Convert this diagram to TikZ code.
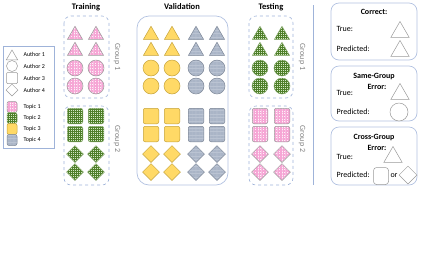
\documentclass[tikz,border=0pt]{standalone}
\usepackage{fontspec}
\setmainfont{Carlito}
\usepackage{xcolor}
\usepackage{tikz}
\usetikzlibrary{shapes.geometric, patterns.meta, positioning}
\definecolor{boxblue}{HTML}{9FB3D9}
\definecolor{shpline}{HTML}{9A9A9A}
\definecolor{pinkln}{HTML}{F6A6D5}
\definecolor{pinkbg}{HTML}{FEF0F8}
\definecolor{greenln}{HTML}{4F7F2A}
\definecolor{greenbg}{HTML}{D3E8C3}
\definecolor{goldfill}{HTML}{FFD966}
\definecolor{goldln}{HTML}{C4A23A}
\definecolor{slatefill}{HTML}{BAC3D2}
\definecolor{slateln}{HTML}{AAB5C7}
\definecolor{slateedge}{HTML}{7E8898}

\begin{document}
\begin{tikzpicture}[x=1pt, y=-1pt,
  every node/.style={font=\fontsize{8}{9}\selectfont},
  shp/.style={inner sep=0pt, draw=shpline, line width=0.5pt},
  tri/.style={shp, regular polygon, regular polygon sides=3,
    minimum size=17.5pt, yshift=-2pt},
  circ/.style={shp, circle, minimum size=16pt},
  sq/.style={shp, rectangle, rounded corners=2pt, minimum size=15.5pt},
  dia/.style={shp, diamond, minimum size=17pt},
  topic1/.style={preaction={fill=pinkbg},
    pattern={Hatch[distance=1.6pt, line width=0.3pt]}, pattern color=pinkln},
  topic2/.style={preaction={fill=greenbg},
    pattern={Hatch[distance=2pt, line width=0.8pt]}, pattern color=greenln,
    draw=greenln!70},
  topic3/.style={fill=goldfill, draw=goldln},
  topic4/.style={preaction={fill=slatefill},
    pattern={Lines[distance=1.4pt, line width=0.3pt]}, pattern color=slateln,
    draw=slateedge},
  blank/.style={fill=white, draw=shpline},
  title/.style={font=\fontsize{8.5}{9}\selectfont\bfseries},
  grplbl/.style={rotate=-90, text=gray, font=\fontsize{8}{9}\selectfont},
  grpbox/.style={draw=boxblue, dashed, line width=0.6pt, rounded corners=7pt},
  panel/.style={draw=boxblue!80, line width=0.7pt, rounded corners=8pt},
  lgd/.style={anchor=west, font=\fontsize{6}{7}\selectfont},
  txt/.style={anchor=west, font=\fontsize{8}{9}\selectfont}]

\useasboundingbox (0,0) rectangle (423,269);

% legend
\draw [draw=boxblue, line width=0.6pt] (3,46) rectangle (54,148);
\node (au1) [tri, blank, minimum size=13pt, yshift=-0.5pt] at (12,54) {};
\node (au2) [circ, blank, minimum size=11pt] at (12,66) {};
\node (au3) [sq, blank, minimum size=11pt, rounded corners=1pt] at (12,78) {};
\node (au4) [dia, blank, minimum size=12pt] at (12,90) {};
\node (au1t) [lgd] at (20,54) {Author 1};
\node (au2t) [lgd] at (20,66) {Author 2};
\node (au3t) [lgd] at (20,78) {Author 3};
\node (au4t) [lgd] at (20,90) {Author 4};
\node (tp1) [sq, topic1, minimum width=10pt, minimum height=11pt] at (12,107) {};
\node (tp2) [sq, topic2, minimum width=10pt, minimum height=11pt] at (12,118) {};
\node (tp3) [sq, topic3, minimum width=10pt, minimum height=11pt] at (12,129) {};
\node (tp4) [sq, topic4, minimum width=10pt, minimum height=11pt] at (12,140) {};
\node (tp1t) [lgd] at (20,107) {Topic 1};
\node (tp2t) [lgd] at (20,118) {Topic 2};
\node (tp3t) [lgd] at (20,129) {Topic 3};
\node (tp4t) [lgd] at (20,140) {Topic 4};

% training
\node (trtitle) [title] at (86,7) {Training};
\draw [grpbox] (64,16) rectangle (109,98);
\draw [grpbox] (64,106) rectangle (109,185);
\node (trg1) [grplbl] at (117,57) {Group 1};
\node (trg2) [grplbl] at (117,139) {Group 2};
\foreach \x in {75,96} {
  \foreach \y in {33,49} \node (tr-\x-\y) [tri, topic1] at (\x,\y) {};
  \foreach \y in {68,86} \node (tr-\x-\y) [circ, topic1] at (\x,\y) {};
  \foreach \y in {116,134} \node (tr-\x-\y) [sq, topic2] at (\x,\y) {};
  \foreach \y in {154,172} \node (tr-\x-\y) [dia, topic2] at (\x,\y) {};
}

% validation
\node (vatitle) [title] at (182,7) {Validation};
\draw [panel, rounded corners=12pt] (137,16) rectangle (228,185);
\foreach \x/\t in {151/topic3,172/topic3,196/topic4,217/topic4} {
  \foreach \y in {33,49} \node (va-\x-\y) [tri, \t] at (\x,\y) {};
  \foreach \y in {68,86} \node (va-\x-\y) [circ, \t] at (\x,\y) {};
  \foreach \y in {116,134} \node (va-\x-\y) [sq, \t] at (\x,\y) {};
  \foreach \y in {154,172} \node (va-\x-\y) [dia, \t] at (\x,\y) {};
}

% testing
\node (tetitle) [title] at (271,7) {Testing};
\draw [grpbox] (249,16) rectangle (293,98);
\draw [grpbox] (249,106) rectangle (293,185);
\node (teg1) [grplbl] at (302,57) {Group 1};
\node (teg2) [grplbl] at (302,139) {Group 2};
\foreach \x in {260,282} {
  \foreach \y in {33,49} \node (te-\x-\y) [tri, topic2] at (\x,\y) {};
  \foreach \y in {68,86} \node (te-\x-\y) [circ, topic2] at (\x,\y) {};
  \foreach \y in {116,134} \node (te-\x-\y) [sq, topic1] at (\x,\y) {};
  \foreach \y in {154,172} \node (te-\x-\y) [dia, topic1] at (\x,\y) {};
}

\draw [draw=boxblue, line width=0.7pt] (313,5) -- (313,185);

% outcome panels
\draw [panel] (331,3) rectangle (417,60);
\node (cortitle) [font=\fontsize{8}{9}\selectfont\bfseries] at (374,12) {Correct:};
\node (cortrue) [txt] at (333,29) {True:};
\node (corpred) [txt] at (333,49) {Predicted:};
\node (cortri) [tri, blank, minimum size=21pt] at (400,30) {};
\node (corptri) [tri, blank, minimum size=21pt] at (400,49) {};

\draw [panel] (331,66) rectangle (417,121);
\node (sgtitle) [font=\fontsize{8}{9}\selectfont\bfseries] at (374,76) {Same-Group};
\node (sgerr) [font=\fontsize{8}{9}\selectfont\bfseries] at (377,87) {Error:};
\node (sgtrue) [txt] at (333,93) {True:};
\node (sgpred) [txt] at (333,112) {Predicted:};
\node (sgtri) [tri, blank, minimum size=21pt] at (400,92) {};
\node (sgcirc) [circ, blank, minimum size=18pt] at (399,112) {};

\draw [panel] (331,127) rectangle (417,185);
\node (cgtitle) [font=\fontsize{8}{9}\selectfont\bfseries] at (374,137) {Cross-Group};
\node (cgerr) [font=\fontsize{8}{9}\selectfont\bfseries] at (377,148) {Error:};
\node (cgtrue) [txt] at (333,157) {True:};
\node (cgpred) [txt] at (333,175) {Predicted:};
\node (cgtri) [tri, blank, minimum size=21pt] at (393,155) {};
\node (cgsq) [sq, blank, minimum width=15pt, minimum height=17pt, rounded corners=3pt] at (381,176) {};
\node (cgor) [font=\fontsize{8}{9}\selectfont] at (394,176) {or};
\node (cgdia) [dia, blank, minimum size=18pt] at (408,175) {};

\end{tikzpicture}
\end{document}
